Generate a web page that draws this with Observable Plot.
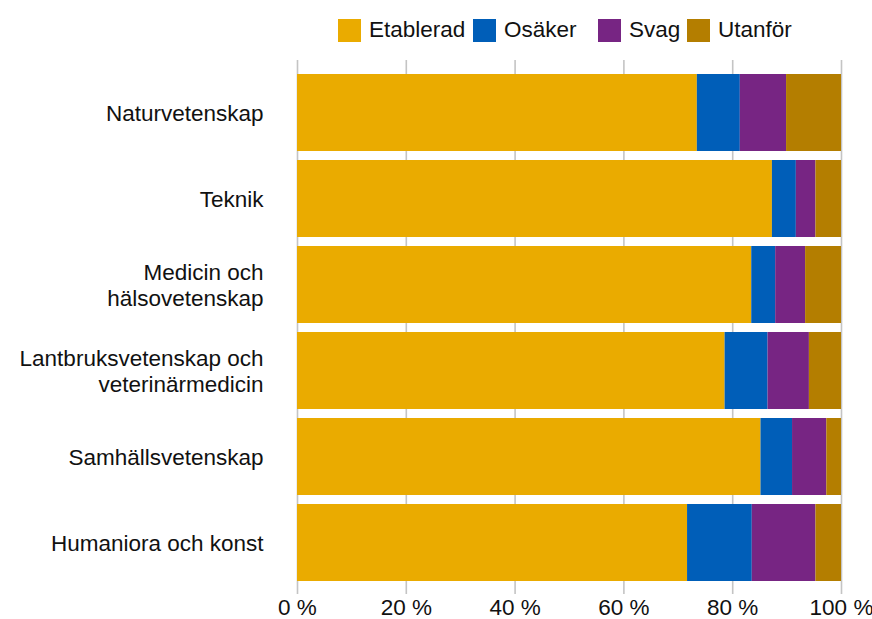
<!DOCTYPE html>
<html>
<head>
<meta charset="utf-8">
<script src="https://cdn.jsdelivr.net/npm/d3@7"></script>
<script src="https://cdn.jsdelivr.net/npm/@observablehq/plot@0.6"></script>
<style>
  html, body { margin: 0; padding: 0; background: #fff; }
  body { width: 872px; height: 619px; overflow: hidden; font-family: "Liberation Sans", Arial, sans-serif; }
  #legend { position: relative; width: 872px; height: 50px; }
  .item { position: absolute; top: 17px; display: flex; align-items: center; font-size: 22.5px; color: #111; }
  .sw { width: 23px; height: 23px; margin-right: 8px; }
</style>
</head>
<body>
<div id="legend"></div>
<div id="chart"></div>
<script>
const categories = [
  "Naturvetenskap",
  "Teknik",
  "Medicin och\nhälsovetenskap",
  "Lantbruksvetenskap och\nveterinärmedicin",
  "Samhällsvetenskap",
  "Humaniora och konst"
];
const seriesNames = ["Etablerad", "Osäker", "Svag", "Utanför"];
const etablerad = [73.5, 87.3, 83.5, 78.6, 85.2, 71.7];
const osaker    = [7.9, 4.4, 4.4, 7.9, 5.8, 11.9];
const svag      = [8.5, 3.6, 5.5, 7.6, 6.3, 11.7];
const utanfor   = [10.1, 4.7, 6.6, 5.9, 2.7, 4.7];
const xTicks = [0, 20, 40, 60, 80, 100];
const colors = ["#EAAB00", "#005EB8", "#772583", "#B47E00"];

const seriesValues = [etablerad, osaker, svag, utanfor];
const rows = [];
seriesNames.forEach((s, si) => {
  categories.forEach((c, ci) => rows.push({category: c, series: s, value: seriesValues[si][ci]}));
});

// legend
const legendLefts = [338, 473, 598, 687];
const legend = document.getElementById("legend");
seriesNames.forEach((s, i) => {
  const it = document.createElement("div");
  it.className = "item";
  it.style.left = legendLefts[i] + "px";
  it.innerHTML = `<div class="sw" style="background:${colors[i]}"></div><span>${s}</span>`;
  legend.appendChild(it);
});

const chart = Plot.plot({
  width: 872,
  height: 569,
  marginTop: 10,
  marginBottom: 25,
  marginLeft: 297,
  marginRight: 31,
  style: {fontFamily: "'Liberation Sans', Arial, sans-serif", fontSize: "22px", color: "#111", overflow: "visible"},
  x: {domain: [0, 100], ticks: xTicks},
  y: {domain: categories, paddingInner: 0.105, paddingOuter: 0.157},
  color: {domain: seriesNames, range: colors},
  marks: [
    Plot.ruleX(xTicks, {stroke: "#c4c4c4", strokeWidth: 1.6}),
    Plot.barX(rows, Plot.stackX({y: "category", x: "value", fill: "series", inset: 0})),
    Plot.axisX({ticks: xTicks, tickSize: 0, tickPadding: 5, tickFormat: d => d + " %", fontSize: 22.5, fill: "#111", label: null}),
    Plot.axisY({tickSize: 0, tickPadding: 34, fontSize: 22.5, fill: "#111", lineHeight: 1.12, label: null})
  ]
});
document.getElementById("chart").appendChild(chart);
</script>
</body>
</html>
